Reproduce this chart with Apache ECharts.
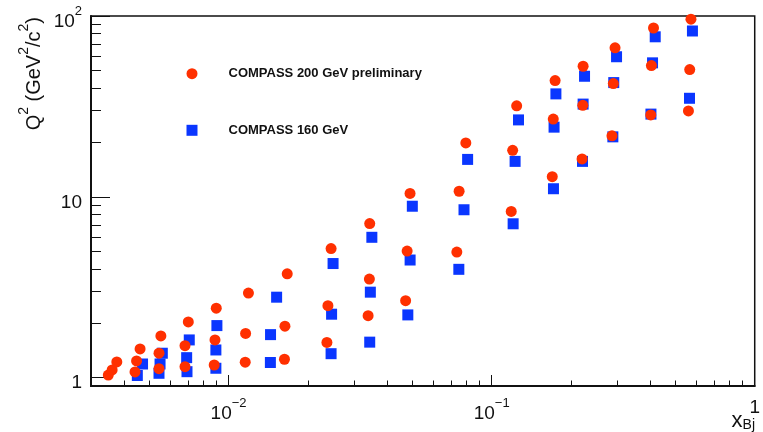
<!DOCTYPE html>
<html>
<head>
<meta charset="utf-8">
<script src="https://cdn.jsdelivr.net/npm/echarts@6.0.0/dist/echarts.min.js"></script>
<style>
  html, body { margin: 0; padding: 0; background: #fff; }
  #chart { width: 763px; height: 432px; }
</style>
</head>
<body>
<div id="chart"></div>
<script>
// COMPASS 200 GeV (preliminary) kinematic bins: x_Bj and Q^2 (GeV^2/c^2)
const xRed = [0.00349, 0.00361, 0.00376, 0.00441, 0.00447, 0.00461, 0.00544, 0.00544, 0.00553,
  0.00683, 0.00683, 0.00703, 0.00882, 0.00888, 0.00898, 0.01157, 0.01161, 0.0119,
  0.01631, 0.01638, 0.01671, 0.02365, 0.02386, 0.02453, 0.03392, 0.0343, 0.0344,
  0.0471, 0.04773, 0.04896, 0.07374, 0.07523, 0.07978, 0.1187, 0.1202, 0.1245,
  0.17, 0.1715, 0.1743, 0.2207, 0.2221, 0.2227, 0.2867, 0.2901, 0.2945,
  0.4025, 0.4049, 0.4124, 0.5598, 0.5662, 0.5723];
const yRed = [1.035, 1.104, 1.222, 1.076, 1.238, 1.443, 1.122, 1.366, 1.702,
  1.151, 1.504, 2.035, 1.176, 1.618, 2.424, 1.218, 1.758, 2.938,
  1.265, 1.927, 3.753, 1.567, 2.502, 5.174, 2.202, 3.512, 7.116,
  2.667, 5.012, 10.45, 4.949, 10.74, 19.87, 8.305, 18.08, 31.88,
  12.93, 26.91, 43.95, 16.2, 32.08, 52.75, 21.75, 42.3, 66.7,
  28.39, 53.22, 85.83, 29.87, 50.56, 96.05];

// COMPASS 160 GeV kinematic bins
const xBlue = [0.0045, 0.00471, 0.00544, 0.00549, 0.0056, 0.00695, 0.00693, 0.00709,
  0.00895, 0.00895, 0.00903, 0.01442, 0.01444, 0.01523, 0.02453, 0.02464, 0.02496,
  0.0344, 0.03459, 0.03505, 0.04802, 0.04899, 0.04995, 0.07504, 0.07852, 0.08104,
  0.1207, 0.1228, 0.1265, 0.1718, 0.1727, 0.1755, 0.2215, 0.2227, 0.2255,
  0.2889, 0.2912, 0.2984, 0.4032, 0.4089, 0.4186, 0.5652, 0.5798];
const yBlue = [1.029, 1.191, 1.058, 1.191, 1.366, 1.08, 1.291, 1.618,
  1.128, 1.424, 1.942, 1.214, 1.731, 2.788, 1.358, 2.245, 4.279,
  1.573, 2.972, 5.976, 2.225, 4.475, 8.875, 3.975, 8.487, 16.11,
  7.098, 15.71, 26.64, 11.09, 24.29, 37.1, 15.71, 32.58, 46.43,
  21.47, 42.84, 59.53, 28.68, 55.08, 76.74, 35.08, 82.63];

// Axis ranges and tick positions
const xRange = [0.003, 1];
const yRange = [0.9, 100];
const xMajorTicks = [0.01, 0.1, 1];
const xMinorTicks = [0.004, 0.005, 0.006, 0.007, 0.008, 0.009,
  0.02, 0.03, 0.04, 0.05, 0.06, 0.07, 0.08, 0.09,
  0.2, 0.3, 0.4, 0.5, 0.6, 0.7, 0.8, 0.9];
const yMajorTicks = [1, 10, 100];
const yMinorTicks = [2, 3, 4, 5, 6, 7, 8, 9, 20, 30, 40, 50, 60, 70, 80, 90];

const seriesNames = ['COMPASS 200 GeV preliminary', 'COMPASS 160 GeV'];

const FONT = '"Liberation Sans", Arial, Helvetica, sans-serif';
const INK = '#111';

// power-of-ten labels: 1, 10, 10^n
function powerLabel(v, plainOne) {
  const e = Math.round(Math.log10(v));
  if (e === 0) return plainOne ? '{o|1}' : '{b|1}';
  if (e === 1) return '{b|10}';
  return '{b|10}{s|' + (e < 0 ? '\u2212' + (-e) : e) + '}';
}
const labelRich = {
  b: { fontFamily: FONT, fontSize: 19, color: INK, lineHeight: 26, verticalAlign: 'bottom' },
  s: { fontFamily: FONT, fontSize: 13, color: INK, lineHeight: 14, verticalAlign: 'top' },
  o: { fontFamily: FONT, fontSize: 19, color: INK, lineHeight: 20, verticalAlign: 'bottom' }
};

const zip = (xs, ys) => xs.map((x, i) => [x, ys[i]]);

const chart = echarts.init(document.getElementById('chart'), null, { renderer: 'canvas' });

const hidden = { show: false };

const legendText = { fontFamily: FONT, fontWeight: 'bold', fontSize: 13, color: INK,
  padding: [0, 0, 0, 26] };

chart.setOption({
  animation: false,
  backgroundColor: '#fff',
  grid: {
    left: 91, top: 16, width: 664, height: 370,
    show: true, borderColor: INK, borderWidth: 1.5, backgroundColor: 'transparent'
  },
  xAxis: [
    {
      type: 'log', logBase: 10, min: xRange[0], max: xRange[1], position: 'bottom',
      axisLine: { show: true, onZero: false, lineStyle: { color: INK, width: 2 } },
      axisTick: { show: true, inside: true, length: 11, customValues: xMajorTicks,
        lineStyle: { color: INK, width: 1 } },
      axisLabel: { show: true, customValues: xMajorTicks, margin: 11,
        formatter: (v) => powerLabel(v, true), rich: labelRich },
      splitLine: hidden, minorTick: hidden
    },
    {
      type: 'log', logBase: 10, min: xRange[0], max: xRange[1], position: 'bottom',
      axisLine: hidden,
      axisTick: { show: true, inside: true, length: 5.5, customValues: xMinorTicks,
        lineStyle: { color: INK, width: 1 } },
      axisLabel: hidden, splitLine: hidden
    }
  ],
  yAxis: [
    {
      type: 'log', logBase: 10, min: yRange[0], max: yRange[1], position: 'left',
      axisLine: { show: true, onZero: false, lineStyle: { color: INK, width: 2 } },
      axisTick: { show: true, inside: true, length: 19, customValues: yMajorTicks,
        lineStyle: { color: INK, width: 1 } },
      axisLabel: { show: true, customValues: yMajorTicks, margin: 9,
        formatter: (v) => powerLabel(v, false), rich: labelRich, padding: [4, 0, 0, 0] },
      splitLine: hidden, minorTick: hidden
    },
    {
      type: 'log', logBase: 10, min: yRange[0], max: yRange[1], position: 'left',
      axisLine: hidden,
      axisTick: { show: true, inside: true, length: 10, customValues: yMinorTicks,
        lineStyle: { color: INK, width: 1 } },
      axisLabel: hidden, splitLine: hidden
    }
  ],
  legend: [
    {
      data: [seriesNames[0]], left: 186.5, top: 67.2, padding: 0,
      itemWidth: 11, itemHeight: 11, selectedMode: false, textStyle: legendText
    },
    {
      data: [seriesNames[1]], left: 186.5, top: 123.8, padding: 0,
      itemWidth: 11, itemHeight: 11, selectedMode: false, textStyle: legendText
    }
  ],
  graphic: [
    {
      type: 'text', x: 31, y: 17, rotation: Math.PI / 2, silent: true,
      style: {
        text: '{m|Q}{s|2}{m| (GeV}{s|2}{m|/c}{s|2}{m|)}',
        align: 'right', verticalAlign: 'middle',
        rich: {
          m: { fontFamily: FONT, fontSize: 20, fill: INK, lineHeight: 27, verticalAlign: 'bottom' },
          s: { fontFamily: FONT, fontSize: 14, fill: INK, lineHeight: 15, verticalAlign: 'top' }
        }
      }
    },
    {
      type: 'text', x: 755, y: 432, silent: true,
      style: {
        text: '{m|x}{u|Bj}',
        align: 'right', verticalAlign: 'bottom',
        rich: {
          m: { fontFamily: FONT, fontSize: 22, fill: INK, lineHeight: 22, verticalAlign: 'top' },
          u: { fontFamily: FONT, fontSize: 14, fill: INK, lineHeight: 14, padding: [21, 0, 0, 0], verticalAlign: 'bottom' }
        }
      }
    }
  ],
  series: [
    {
      name: seriesNames[0], type: 'scatter', xAxisIndex: 0, yAxisIndex: 0,
      symbol: 'circle', symbolSize: 11, z: 3, silent: true,
      itemStyle: { color: '#ff3000', opacity: 1 },
      emphasis: { disabled: true },
      data: zip(xRed, yRed)
    },
    {
      name: seriesNames[1], type: 'scatter', xAxisIndex: 0, yAxisIndex: 0,
      symbol: 'rect', symbolSize: 11, z: 2, silent: true,
      itemStyle: { color: '#0a36ff', opacity: 1 },
      emphasis: { disabled: true },
      data: zip(xBlue, yBlue)
    }
  ]
});
</script>
</body>
</html>
